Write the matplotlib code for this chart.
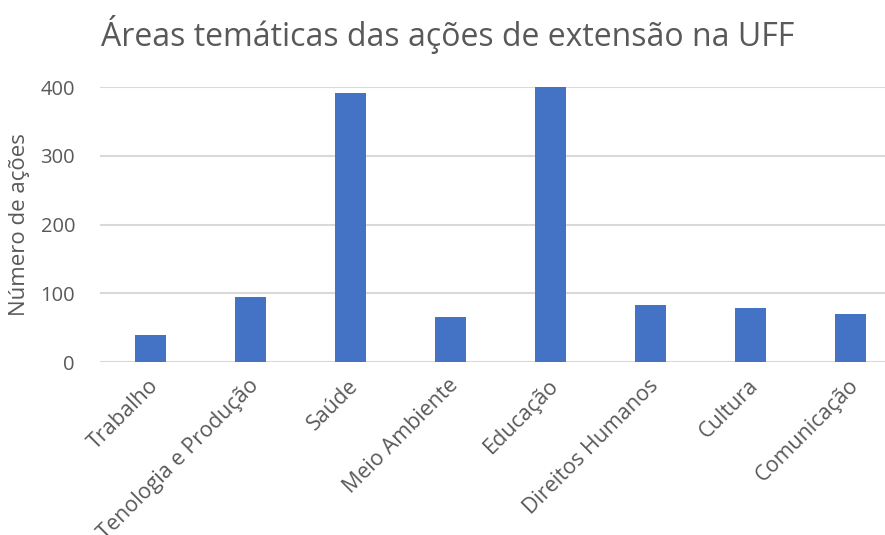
import matplotlib.pyplot as plt
import matplotlib.transforms as mtransforms
import numpy as np

plt.rcParams['font.family'] = ['Open Sans', 'DejaVu Sans']

areas = ["Trabalho", "Tenologia e Produção", "Saúde", "Meio Ambiente",
         "Educação", "Direitos Humanos", "Cultura", "Comunicação"]
acoes = [40, 95, 391, 65, 400, 83, 79, 70]
yticks = [0, 100, 200, 300, 400]

cinza = '#595959'

fig = plt.figure(figsize=(8.85, 5.35), dpi=100)
ax = fig.add_axes([100/885, 173/535, 800/885, 275/535])

x = np.arange(len(areas))
ax.bar(x, acoes, width=0.31, color='#4472C4', zorder=3)

ax.set_xlim(-0.5, len(areas) - 0.5)
ax.set_ylim(0, 400)
ax.set_yticks(yticks)
ax.set_xticks(x)
ax.set_xticklabels(areas, rotation=45, ha='right', rotation_mode='anchor',
                   fontsize=15.5, color=cinza)
ax.tick_params(axis='x', length=0, pad=8)
ax.tick_params(axis='y', length=0, pad=18, labelsize=14.5, labelcolor=cinza)
ax.grid(axis='y', color='#d9d9d9', linewidth=1.5, zorder=0)
for s in ax.spines.values():
    s.set_visible(False)

# ajuste fino da posição dos rótulos do eixo x
desloc = mtransforms.ScaledTranslation(-2/100, -2/100, fig.dpi_scale_trans)
for lbl in ax.get_xticklabels():
    lbl.set_transform(lbl.get_transform() + desloc)

ax.set_ylabel('Número de ações', fontsize=16, color=cinza)
ax.yaxis.set_label_coords(-70/800, 0.5)
fig.text(448/885, 1 - 34/535, 'Áreas temáticas das ações de extensão na UFF',
         ha='center', va='center', fontsize=23, color=cinza)

fig.savefig('out.png', dpi=100)
